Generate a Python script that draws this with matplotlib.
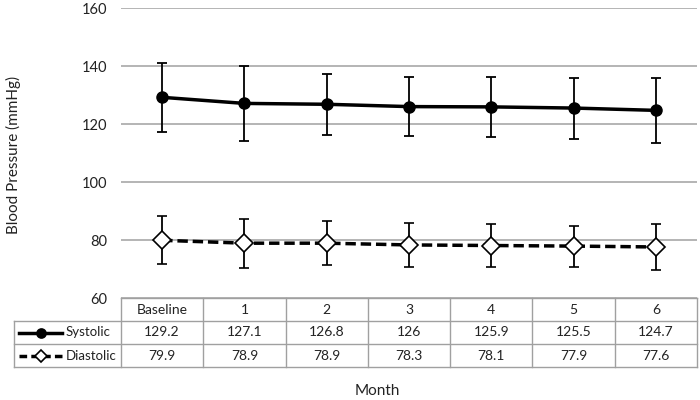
import matplotlib.pyplot as plt

plt.rcParams['font.family'] = ['Lato', 'DejaVu Sans']

months = ["Baseline", "1", "2", "3", "4", "5", "6"]
systolic = [129.2, 127.1, 126.8, 126, 125.9, 125.5, 124.7]
systolic_sd = [11.8, 12.8, 10.6, 10.1, 10.3, 10.5, 11.2]
diastolic = [79.9, 78.9, 78.9, 78.3, 78.1, 77.9, 77.6]
diastolic_sd = [8.3, 8.5, 7.5, 7.6, 7.3, 7.1, 8.0]
series_names = ["Systolic", "Diastolic"]

W, H = 700, 400
PW, PH = 576, 290
fig = plt.figure(figsize=(7, 4), dpi=100)
ax = fig.add_axes([121 / W, (H - 298) / H, PW / W, PH / H])

x = list(range(len(months)))
ax.errorbar(x, systolic, yerr=systolic_sd, color='black', lw=2.5, marker='o',
            markersize=8, ecolor='black', elinewidth=1.3, capsize=3.5, capthick=1.3, zorder=3)
ax.errorbar(x, diastolic, yerr=diastolic_sd, color='black', lw=2.5, dashes=(3, 1.4),
            marker='D', markersize=9, markerfacecolor='white', markeredgecolor='black',
            markeredgewidth=1.2, ecolor='black', elinewidth=1.3, capsize=3.5, capthick=1.3, zorder=3)

ax.set_xlim(-0.5, len(months) - 0.5)
ax.set_ylim(60, 160)
ax.set_yticks(range(60, 161, 20))
ax.set_xticks([])
ax.tick_params(axis='y', length=0, labelsize=10.5, pad=10, colors='#222222')
ax.grid(axis='y', color='#a0a0a0', lw=1.1)
ax.set_axisbelow(True)
for s in ax.spines.values():
    s.set_visible(False)
ax.set_ylabel("Blood Pressure (mmHg)", fontsize=11, color='#222222')
ax.yaxis.set_label_coords(-(121 - 21) / PW, (298 - 155) / PH)

# data table under the plot, drawn in axes coordinates
rh = 23 / PH
lab_w = 107 / PW
n = len(months)
grid_kw = dict(transform=ax.transAxes, clip_on=False, color='#a0a0a0', lw=1.0)
ax.plot([0, 1], [0, 0], **grid_kw)
for k in range(1, 4):
    ax.plot([-lab_w, 1], [-k * rh, -k * rh], **grid_kw)
for j in range(n + 1):
    ax.plot([j / n, j / n], [0, -3 * rh], **grid_kw)
ax.plot([-lab_w, -lab_w], [-rh, -3 * rh], **grid_kw)

txt_kw = dict(ha='center', va='center', fontsize=10, color='#222222', clip_on=False)
for j, m in enumerate(months):
    ax.text((j + 0.5) / n, -0.5 * rh, m, transform=ax.transAxes, **txt_kw)
for i, vals in enumerate([systolic, diastolic]):
    yc = -(1.5 + i) * rh
    for j, v in enumerate(vals):
        ax.text((j + 0.5) / n, yc, f"{v:g}", transform=ax.transAxes, **txt_kw)
    ax.text((66 - 121) / PW, yc, series_names[i], transform=ax.transAxes,
            ha='left', va='center', fontsize=9.5, color='#222222')

# legend keys inside the row label cells
x0, x1 = (19 - 121) / PW, (62 - 121) / PW
keys = [('o', 'black', '-', 6.5), ('D', 'white', (0, (2.2, 1.2)), 6.5)]
for i, (mk, fc, ls, ms) in enumerate(keys):
    yk = -(1.5 + i) * rh
    ax.plot([x0, (x0 + x1) / 2, x1], [yk, yk, yk], transform=ax.transAxes, clip_on=False,
            color='black', lw=2.5, linestyle=ls, marker=mk, markevery=[1], markersize=ms,
            markerfacecolor=fc, markeredgecolor='black', markeredgewidth=1.2)

fig.text(377 / W, 1 - 391 / H, "Month", ha='center', va='center', fontsize=11, color='#222222')

fig.savefig("out.png", dpi=100)
